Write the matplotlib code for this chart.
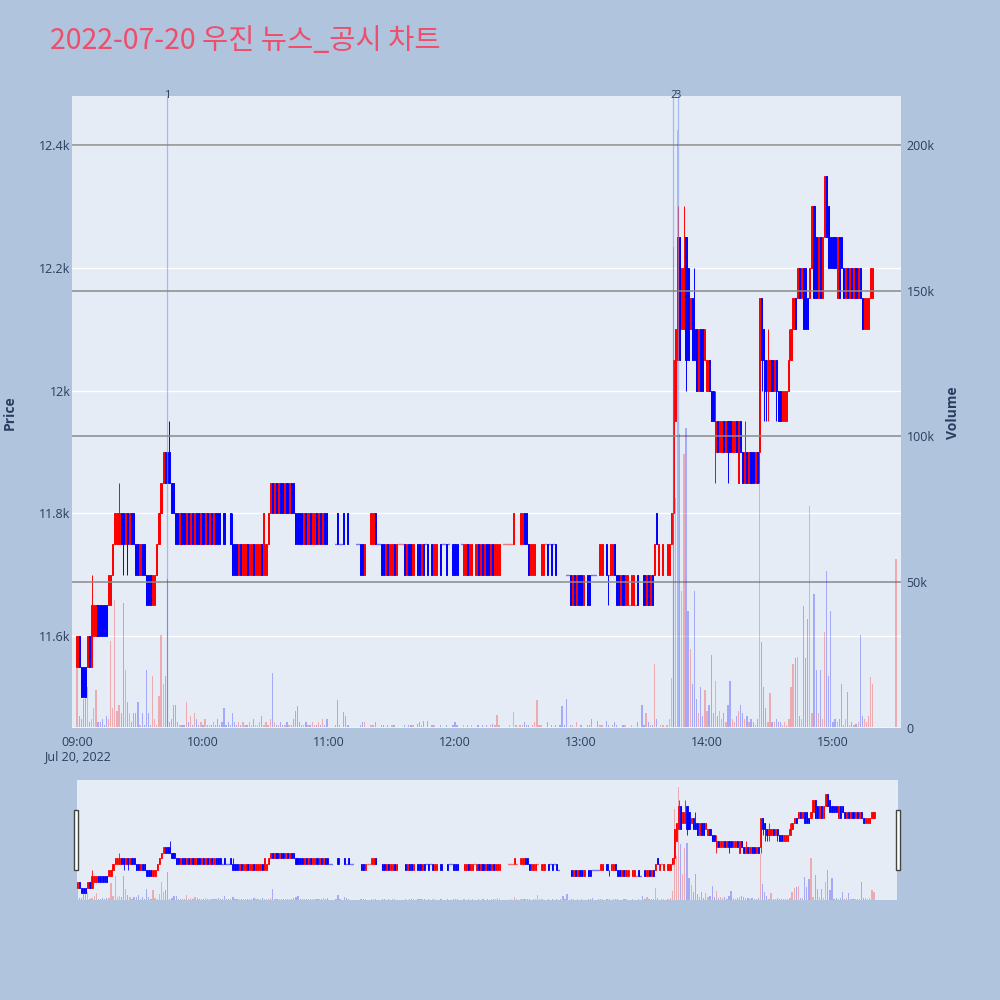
import numpy as np
import matplotlib
matplotlib.use('agg')
import matplotlib.pyplot as plt
import matplotlib.transforms as mtransforms
from matplotlib.patches import Rectangle

title = "2022-07-20 우진 뉴스_공시 차트"

# minutes after 09:00 (regular session) and the 15:30 closing print
minutes = list(range(380)) + [390]

opens = [
    11550, 11600, 11550, 11550, 11550, 11550, 11600, 11550, 11600, 11600,
    11650, 11650, 11650, 11650, 11650, 11650, 11650, 11700, 11750, 11750,
    11750, 11800, 11800, 11750, 11800, 11750, 11800, 11800, 11750, 11750,
    11700, 11750, 11750, 11700, 11700, 11700, 11650, 11650, 11700, 11750,
    11800, 11850, 11900, 11900, 11900, 11850, 11850, 11800, 11800, 11750,
    11800, 11800, 11750, 11800, 11750, 11800, 11750, 11800, 11800, 11750,
    11800, 11750, 11800, 11750, 11800, 11750, 11800, 11800, 11800, 11750,
    11800, 11750, 11750, 11800, 11750, 11750, 11750, 11700, 11750, 11700,
    11700, 11750, 11700, 11700, 11750, 11700, 11700, 11700, 11750, 11700,
    11700, 11750, 11800, 11850, 11800, 11850, 11800, 11850, 11850, 11800,
    11850, 11800, 11850, 11850, 11800, 11800, 11800, 11800, 11750, 11800,
    11750, 11800, 11750, 11750, 11800, 11750, 11800, 11750, 11800, 11800,
    11750, 11750, 11750, 11750, 11800, 11750, 11750, 11800, 11750, 11800,
    11750, 11750, 11750, 11750, 11750, 11750, 11750, 11700, 11750, 11750,
    11750, 11750, 11800, 11750, 11750, 11750, 11750, 11700, 11750, 11700,
    11700, 11750, 11700, 11750, 11750, 11750, 11750, 11700, 11750, 11750,
    11700, 11750, 11750, 11750, 11700, 11750, 11750, 11750, 11750, 11750,
    11700, 11700, 11750, 11750, 11750, 11750, 11750, 11750, 11750, 11750,
    11750, 11750, 11750, 11750, 11700, 11700, 11750, 11700, 11700, 11750,
    11700, 11750, 11700, 11750, 11700, 11750, 11750, 11700, 11750, 11700,
    11700, 11700, 11750, 11750, 11750, 11750, 11750, 11750, 11750, 11750,
    11750, 11750, 11750, 11800, 11800, 11750, 11700, 11700, 11700, 11750,
    11750, 11700, 11700, 11750, 11750, 11750, 11750, 11750, 11750, 11700,
    11700, 11700, 11700, 11700, 11700, 11700, 11650, 11700, 11650, 11700,
    11700, 11650, 11700, 11700, 11700, 11700, 11700, 11700, 11700, 11700,
    11700, 11750, 11750, 11700, 11700, 11700, 11750, 11700, 11700, 11650,
    11700, 11650, 11650, 11650, 11650, 11650, 11650, 11700, 11650, 11650,
    11700, 11650, 11700, 11650, 11700, 11700, 11800, 11700, 11750, 11700,
    11750, 11700, 11700, 11750, 11800, 11950, 12050, 12250, 12100, 12100,
    12250, 12200, 12100, 12150, 12100, 12100, 12000, 12100, 12100, 12050,
    12000, 12050, 12000, 12000, 11900, 11950, 11900, 11900, 11950, 11900,
    11950, 11950, 11900, 11900, 11950, 11850, 11950, 11900, 11850, 11900,
    11850, 11900, 11900, 11850, 11900, 11900, 12150, 12100, 12050, 12000,
    12000, 12050, 12000, 12050, 12000, 12000, 11950, 11950, 11950, 12000,
    12050, 12100, 12150, 12150, 12200, 12150, 12200, 12200, 12150, 12150,
    12200, 12300, 12250, 12150, 12250, 12150, 12250, 12350, 12300, 12250,
    12250, 12250, 12150, 12250, 12250, 12200, 12150, 12200, 12150, 12200,
    12150, 12200, 12150, 12200, 12150, 12100, 12100, 12100, 12150, 12150,
    12250,
]

closes = [
    11600, 11550, 11500, 11500, 11500, 11600, 11550, 11650, 11650, 11650,
    11600, 11600, 11600, 11600, 11600, 11700, 11700, 11750, 11800, 11800,
    11800, 11750, 11750, 11800, 11750, 11800, 11750, 11750, 11700, 11700,
    11750, 11700, 11700, 11650, 11650, 11650, 11700, 11700, 11750, 11800,
    11850, 11900, 11850, 11850, 11850, 11800, 11800, 11750, 11750, 11800,
    11750, 11750, 11800, 11750, 11800, 11750, 11800, 11750, 11750, 11800,
    11750, 11800, 11750, 11800, 11750, 11800, 11750, 11750, 11750, 11750,
    11750, 11750, 11750, 11750, 11700, 11700, 11700, 11750, 11700, 11750,
    11750, 11700, 11750, 11750, 11700, 11750, 11750, 11750, 11700, 11800,
    11750, 11800, 11850, 11800, 11850, 11800, 11850, 11800, 11800, 11850,
    11800, 11850, 11800, 11800, 11750, 11750, 11750, 11750, 11800, 11750,
    11800, 11750, 11800, 11800, 11750, 11800, 11750, 11800, 11750, 11750,
    11750, 11750, 11750, 11750, 11750, 11750, 11750, 11750, 11750, 11750,
    11750, 11750, 11750, 11750, 11750, 11700, 11700, 11750, 11750, 11750,
    11800, 11800, 11750, 11750, 11750, 11700, 11700, 11750, 11700, 11750,
    11750, 11700, 11750, 11750, 11750, 11750, 11700, 11750, 11700, 11700,
    11750, 11750, 11700, 11700, 11750, 11700, 11750, 11700, 11750, 11700,
    11750, 11750, 11750, 11700, 11750, 11750, 11700, 11750, 11750, 11700,
    11700, 11700, 11750, 11750, 11750, 11750, 11700, 11750, 11750, 11750,
    11750, 11700, 11750, 11700, 11750, 11700, 11700, 11750, 11700, 11750,
    11750, 11750, 11750, 11750, 11750, 11750, 11750, 11750, 11800, 11750,
    11750, 11800, 11800, 11750, 11750, 11700, 11750, 11750, 11750, 11750,
    11750, 11750, 11750, 11750, 11700, 11750, 11700, 11750, 11700, 11700,
    11700, 11700, 11700, 11700, 11700, 11650, 11700, 11650, 11700, 11650,
    11650, 11700, 11700, 11650, 11650, 11700, 11700, 11700, 11700, 11750,
    11750, 11750, 11700, 11700, 11750, 11750, 11700, 11650, 11650, 11700,
    11650, 11700, 11700, 11650, 11700, 11700, 11650, 11650, 11650, 11650,
    11650, 11700, 11650, 11700, 11650, 11750, 11750, 11750, 11750, 11750,
    11750, 11750, 11750, 11800, 12050, 12100, 12250, 12050, 12200, 12200,
    12050, 12050, 12150, 12050, 12050, 12000, 12100, 12000, 12000, 12100,
    12050, 12000, 11950, 11950, 11950, 11900, 11950, 11950, 11900, 11950,
    11900, 11900, 11950, 11950, 11900, 11950, 11900, 11850, 11900, 11850,
    11900, 11850, 11850, 11900, 11850, 12150, 12050, 12050, 12000, 12050,
    12050, 12000, 12050, 12000, 11950, 11950, 12000, 12000, 12000, 12050,
    12100, 12150, 12100, 12200, 12150, 12200, 12100, 12100, 12100, 12200,
    12300, 12150, 12150, 12250, 12150, 12250, 12350, 12250, 12200, 12200,
    12200, 12200, 12250, 12150, 12200, 12150, 12200, 12150, 12200, 12150,
    12200, 12150, 12200, 12150, 12100, 12150, 12150, 12150, 12200, 12200,
    12250,
]

# wicks reaching past the body (minute index -> price)
high_idx = [7, 20, 44, 74, 286, 289, 294, 304, 318, 329, 339]
high_val = [11700, 11850, 11950, 11800, 12300, 12300, 12200, 12000, 11950, 12100, 12100]
low_idx = [22, 24, 253, 284, 290, 304, 310, 325, 326, 327, 328, 329, 333]
low_val = [11700, 11700, 11650, 11750, 12000, 11850, 11850, 11850, 12000, 11950, 11950, 11950, 11950]

# traded volume per minute, thousands of shares
volume_k = [
    21, 4, 3, 10, 11, 14, 2, 3, 7, 13,
    2, 2, 3, 1, 4, 3, 30, 7, 44, 6,
    8, 5, 43, 20, 9, 5, 2, 5, 5, 9,
    1, 5, 1, 20, 5, 1, 18, 3, 1, 11,
    32, 15, 18, 51, 2, 3, 8, 8, 2, 1,
    1, 1, 9, 2, 4, 1, 5, 3, 1, 2,
    1, 3, 1, 1, 1, 2, 1, 3, 1, 2,
    7, 1, 2, 1, 5, 2, 1, 2, 1, 2,
    1, 1, 2, 1, 3, 1, 1, 2, 4, 1,
    2, 1, 3, 19, 2, 1, 1, 2, 1, 1,
    2, 1, 1, 3, 6, 7.5, 2, 1, 1, 2,
    1, 1, 2, 1, 1, 2, 1, 3, 1, 3,
    0.5, 0.3, 0.5, 1, 9.6, 1, 0.5, 5.5, 4, 1,
    0.3, 0.5, 0.3, 0.5, 0.5, 1, 2, 2, 0.3, 0.5,
    1, 1, 2, 0.3, 0.5, 1, 1, 0.5, 1, 0.5,
    1, 1, 0.5, 0.3, 0.3, 0.5, 1, 0.5, 1, 1,
    1, 0.3, 1.5, 2, 1, 2.5, 0.5, 2.5, 0.3, 1,
    1, 0.5, 0.3, 1, 0.3, 0.5, 1, 0.3, 0.5, 1,
    2, 1, 0.3, 0.5, 1, 0.5, 1, 0.5, 1, 0.3,
    0.5, 1, 0.5, 1, 0.5, 1, 0.5, 1, 1.5, 1,
    4.5, 1, 0.3, 0.5, 0.3, 0.5, 1, 0.5, 5.5, 1,
    0.5, 1, 1, 2, 1, 1, 0.5, 1, 2, 9.6,
    1, 1, 0.5, 0.3, 2, 0.5, 1, 0.5, 1, 0.5,
    1, 7.5, 1, 10, 0.5, 1, 1, 0.5, 2, 0.5,
    1, 0.5, 0.3, 1, 1, 3, 0.5, 0.3, 2.5, 1,
    1, 0.5, 2.5, 1, 0.5, 1, 2, 1, 0.5, 0.5,
    1, 1, 0.5, 0.3, 1, 0.5, 0.3, 2, 0.5, 8,
    1, 5, 2, 1, 1, 22, 3, 0.5, 1, 1,
    0.5, 1, 3, 17, 165, 79, 205, 101, 47, 94,
    103, 40, 27, 15, 47, 10, 5, 14, 4, 13,
    6, 8, 25, 5, 16, 4, 6, 3, 5, 2,
    8, 16, 3, 2, 4, 6, 8, 5, 3, 4,
    2, 3, 2, 1, 3, 84, 29.5, 14, 7, 2,
    12, 2, 2, 3, 2, 2, 1, 2, 1, 3,
    14, 22, 24, 24.5, 4, 3, 42, 24, 37.5, 76,
    5, 46, 20, 5, 20, 3, 33, 54, 18, 40,
    2, 3, 2, 3, 15, 1, 3, 12.5, 1, 2,
    1, 1.5, 2, 32, 4, 3, 2, 4, 17.6, 15,
    58,
]

# news / disclosure markers
news_minutes = [43, 284, 286]
news_labels = ['1', '2', '3']

price_ticks = [11600, 11800, 12000, 12200, 12400]
price_tick_labels = ['11.6k', '11.8k', '12k', '12.2k', '12.4k']
vol_ticks = [0, 50, 100, 150, 200]
vol_tick_labels = ['0', '50k', '100k', '150k', '200k']
time_ticks = [0, 60, 120, 180, 240, 300, 360]
time_labels = ['09:00', '10:00', '11:00', '12:00', '13:00', '14:00', '15:00']

BG = '#B0C4DE'
PLOT_BG = '#E5ECF6'
FONT_COLOR = '#2a3f5f'
UP, DOWN = '#FF0000', '#0000FF'

x = np.array(minutes, dtype=float)
o = np.array(opens, dtype=float)
c = np.array(closes, dtype=float)
hi = np.maximum(o, c)
lo = np.minimum(o, c)
hi[high_idx] = high_val
lo[low_idx] = low_val
vol = np.array(volume_k, dtype=float)

# candle colour: up red, down blue, flat keeps the previous direction
colors = []
prev = DOWN
for oo, cc in zip(o, c):
    if cc > oo:
        prev = UP
    elif cc < oo:
        prev = DOWN
    colors.append(prev)
colors = np.array(colors)
flat = c == o


def draw_candles(ax, lw=0.7):
    ax.vlines(x, lo, hi, colors=colors, lw=lw, zorder=2)
    nf = ~flat
    ax.bar(x[nf], np.abs(c - o)[nf], bottom=np.minimum(o, c)[nf], width=0.55,
           color=colors[nf], edgecolor=colors[nf], linewidth=lw, zorder=3)
    # doji candles show up as short dashes
    ax.bar(x[flat], 0, bottom=c[flat], width=0.25, color=colors[flat],
           edgecolor=colors[flat], linewidth=1.0, zorder=3)


def draw_volume(ax):
    ax.bar(x, vol, width=0.6, color=colors, alpha=0.28, linewidth=0, zorder=2)


plt.rcParams['font.family'] = ['Open Sans', 'DejaVu Sans']

fig = plt.figure(figsize=(10, 10), dpi=100, facecolor=BG)

# ---- main chart
ax = fig.add_axes([0.072, 0.272, 0.829, 0.632])
ax.set_facecolor(PLOT_BG)
ax.set_xlim(-2.4, 392.4)
ax.set_ylim(11450, 12480)
ax.set_yticks(price_ticks, price_tick_labels)
ax.set_xticks(time_ticks, time_labels)
ax.grid(axis='y', color='white', lw=1)
ax.set_axisbelow(True)
for s in ax.spines.values():
    s.set_visible(False)
ax.tick_params(axis='both', length=0, labelsize=9, labelcolor=FONT_COLOR)
ax.tick_params(axis='y', pad=1)
ax.tick_params(axis='x', pad=6)
draw_candles(ax)

for m in news_minutes:
    ax.axvline(m, color='#7d98f0', alpha=0.6, lw=0.9, zorder=4)
trans = mtransforms.blended_transform_factory(ax.transData, ax.transAxes)
for m, lab in zip(news_minutes, news_labels):
    ax.text(m, 1.0, lab, transform=trans, ha='center', va='center',
            fontsize=8, color=FONT_COLOR, zorder=6)

ax2 = ax.twinx()
ax2.set_ylim(0, 216.8)
ax2.set_yticks(vol_ticks, vol_tick_labels)
ax2.grid(axis='y', color='#8a8a8a', lw=1.1)
for s in ax2.spines.values():
    s.set_visible(False)
ax2.tick_params(axis='y', length=0, labelsize=9, labelcolor=FONT_COLOR, pad=4)
draw_volume(ax2)
ax2.axhline(0, color='white', lw=2, zorder=3)

fig.text(0.010, 0.587, 'Price', rotation=90, ha='center', va='center',
         fontsize=10, fontweight='bold', color=FONT_COLOR)
fig.text(0.953, 0.587, 'Volume', rotation=90, ha='center', va='center',
         fontsize=10, fontweight='bold', color=FONT_COLOR)
fig.text(0.077, 0.243, 'Jul 20, 2022', ha='center', va='center',
         fontsize=9, color=FONT_COLOR)

fig.text(0.05, 0.959, title, ha='left', va='center', fontsize=20.5,
         color='#EE4E6B', family=['Noto Sans CJK KR', 'DejaVu Sans'])

# ---- range slider
sl = fig.add_axes([0.0765, 0.1, 0.8215, 0.12])
sl.set_facecolor(PLOT_BG)
sl.set_xlim(-0.4, 390.4)
sl.set_ylim(11443, 12473)
sl.set_xticks([])
sl.set_yticks([])
for s in sl.spines.values():
    s.set_visible(False)
draw_candles(sl, lw=0.6)
sl2 = sl.twinx()
sl2.set_ylim(0, 216.8)
sl2.set_yticks([])
for s in sl2.spines.values():
    s.set_visible(False)
draw_volume(sl2)

for hx in (0.0735, 0.8955):
    fig.add_artist(Rectangle((hx, 0.130), 0.004, 0.06, transform=fig.transFigure,
                             facecolor='white', edgecolor='#444444', lw=1, zorder=10))

fig.savefig('out.png', dpi=100, facecolor=BG)
